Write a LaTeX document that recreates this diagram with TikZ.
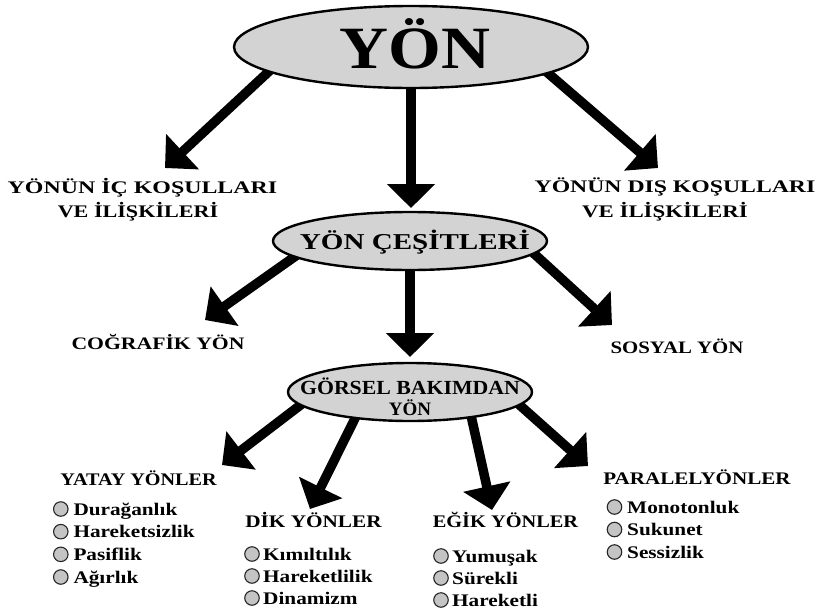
\documentclass[tikz,border=0pt]{standalone}
\usepackage{fontspec}
\setmainfont{Liberation Serif}
\usepackage{graphicx}
\usetikzlibrary{arrows.meta,shapes.geometric,calc,backgrounds}
\definecolor{ellgray}{HTML}{D3D3D3}
\definecolor{dotgray}{HTML}{C4C4C4}
\newcommand\hsc[2]{\scalebox{#1}[1]{#2}}
\tikzset{
 ell/.style={ellipse, draw=black, line width=2.4pt, fill=ellgray, inner sep=0pt},
 bigarrow/.style={line width=9.5pt, -{Triangle[width=47pt,length=24pt]}},
 lbl/.style={inner sep=0pt, anchor=base, font=\bfseries\fontsize{17.7}{18}\selectfont},
 item/.style={inner sep=0pt, anchor=base west, font=\bfseries\fontsize{17.7}{18}\selectfont},
 dot/.style={circle, draw=black!85, line width=1.1pt, fill=dotgray, minimum size=14.5pt, inner sep=0pt},
}
\begin{document}
\begin{tikzpicture}[x=1pt,y=-1pt]
\useasboundingbox (0,0) rectangle (820,611);
% ellipses
\node[ell, minimum width=354pt, minimum height=82pt] (e1) at (411,47) {};
\node[lbl, font=\bfseries\fontsize{60}{60}\selectfont] (t1) at (415,68) {\hsc{1.13}{YÖN}};
\node[ell, minimum width=274pt, minimum height=58pt] (e2) at (410,241) {};
\node[lbl, font=\bfseries\fontsize{22.7}{23}\selectfont] (t2) at (415,249) {\hsc{1.28}{YÖN ÇEŞİTLERİ}};
\node[ell, minimum width=244pt, minimum height=58pt] (e3) at (410,392) {};
\node[lbl, font=\bfseries\fontsize{20}{20}\selectfont] (t3a) at (410,394) {\hsc{1.09}{GÖRSEL BAKIMDAN}};
\node[lbl, font=\bfseries\fontsize{19}{19}\selectfont] (t3b) at (410,415.5) {YÖN};
% level 1 labels
\node[lbl] (ic1) at (142.5,193) {\hsc{1.35}{YÖNÜN İÇ KOŞULLARI}};
\node[lbl] (ic2) at (138,217) {\hsc{1.25}{VE İLİŞKİLERİ}};
\node[lbl] (dis1) at (675,192) {\hsc{1.34}{YÖNÜN DIŞ KOŞULLARI}};
\node[lbl] (dis2) at (665,217) {\hsc{1.29}{VE İLİŞKİLERİ}};
% level 2 labels
\node[lbl, font=\bfseries\fontsize{17.5}{18}\selectfont] (cog) at (158,349) {\hsc{1.24}{COĞRAFİK YÖN}};
\node[lbl, font=\bfseries\fontsize{17.5}{18}\selectfont] (sos) at (677,353) {\hsc{1.19}{SOSYAL YÖN}};
% level 3 headings
\node[lbl] (yatay) at (138.5,485) {\hsc{1.14}{YATAY YÖNLER}};
\node[lbl] (dik) at (313.5,527.5) {\hsc{1.2}{DİK YÖNLER}};
\node[lbl] (egik) at (505.5,527.5) {\hsc{1.15}{EĞİK YÖNLER}};
\node[lbl] (paralel) at (697,484) {\hsc{1.19}{PARALELYÖNLER}};
% items
\foreach \t [count=\k] in {Durağanlık,Hareketsizlik,Pasiflik,Ağırlık}{
  \node[dot] (yd\k) at (60.8,{509+22.67*(\k-1)}) {};
  \node[item] (yi\k) at (73.3,{515+22.67*(\k-1)}) {\hsc{1.2}{\t}};
}
\foreach \t [count=\k] in {Kımıltılık,Hareketlilik,Dinamizm}{
  \node[dot] (dd\k) at (252,{554+22*(\k-1)}) {};
  \node[item] (di\k) at (263,{560+22*(\k-1)}) {\hsc{1.2}{\t}};
}
\foreach \t [count=\k] in {Yumuşak,Sürekli,Hareketli}{
  \node[dot] (ed\k) at (441,{556+22*(\k-1)}) {};
  \node[item] (ei\k) at (452,{562+22*(\k-1)}) {\hsc{1.2}{\t}};
}
\foreach \t [count=\k] in {Monotonluk,Sukunet,Sessizlik}{
  \node[dot] (pd\k) at (614.5,{507+22.5*(\k-1)}) {};
  \node[item] (pi\k) at (627,{513+22.5*(\k-1)}) {\hsc{1.2}{\t}};
}
% arrow tips
\coordinate (a1) at (165,168);
\coordinate (a2) at (411,208);
\coordinate (a3) at (658,168);
\coordinate (b1) at (205,320);
\coordinate (b2) at (410,357);
\coordinate (b3) at (612,325);
\coordinate (c1) at (222,465);
\coordinate (c2) at (310,509);
\coordinate (c3) at (492,510);
\coordinate (c4) at (588,466);
\begin{scope}[on background layer]
\fill[white] (0,0) rectangle (820,611);
\draw[bigarrow] ($(e1.190)!-8pt!(a1)$) -- (a1);
\draw[bigarrow] ($(e1.south)!-8pt!(a2)$) -- (a2);
\draw[bigarrow] ($(e1.349)!-8pt!(a3)$) -- (a3);
\draw[bigarrow] ($(e2.188)!-8pt!(b1)$) -- (b1);
\draw[bigarrow] ($(e2.south)!-8pt!(b2)$) -- (b2);
\draw[bigarrow] ($(e2.354)!-8pt!(b3)$) -- (b3);
\draw[bigarrow] ($(e3.187)!-8pt!(c1)$) -- (c1);
\draw[bigarrow] ($(e3.206)!-8pt!(c2)$) -- (c2);
\draw[bigarrow] ($(e3.337)!-8pt!(c3)$) -- (c3);
\draw[bigarrow] ($(e3.353)!-8pt!(c4)$) -- (c4);
\end{scope}
\end{tikzpicture}
\end{document}
